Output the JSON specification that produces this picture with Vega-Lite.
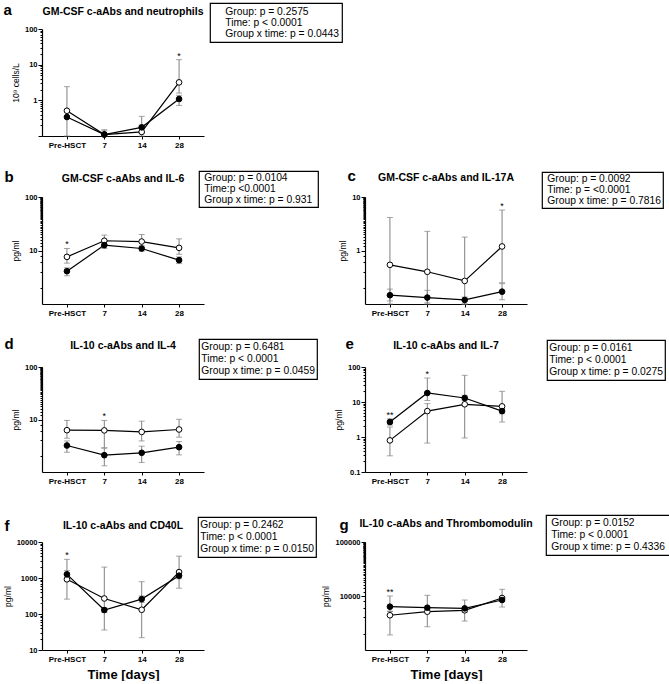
{
  "$schema": "https://vega.github.io/schema/vega-lite/v6.json",
  "padding": {"left": 3, "top": 2, "right": 0, "bottom": 0},
  "datasets": {
    "series": [
      {"panel": "a", "group": "c-aAbs−", "time": "Pre-HSCT", "day": 0, "value": 0.51, "lo": 0.1, "hi": 2.42},
      {"panel": "a", "group": "c-aAbs−", "time": "7", "day": 7, "value": 0.11, "lo": 0.1, "hi": 0.15},
      {"panel": "a", "group": "c-aAbs−", "time": "14", "day": 14, "value": 0.13, "lo": 0.1, "hi": 0.2},
      {"panel": "a", "group": "c-aAbs−", "time": "28", "day": 28, "value": 3.19, "lo": 1.6, "hi": 13.8},
      {"panel": "a", "group": "c-aAbs+", "time": "Pre-HSCT", "day": 0, "value": 0.34, "lo": 0.34, "hi": 0.34},
      {"panel": "a", "group": "c-aAbs+", "time": "7", "day": 7, "value": 0.11, "lo": 0.1, "hi": 0.14},
      {"panel": "a", "group": "c-aAbs+", "time": "14", "day": 14, "value": 0.175, "lo": 0.12, "hi": 0.356},
      {"panel": "a", "group": "c-aAbs+", "time": "28", "day": 28, "value": 1.09, "lo": 0.72, "hi": 1.38},
      {"panel": "b", "group": "c-aAbs−", "time": "Pre-HSCT", "day": 0, "value": 7.6, "lo": 5.8, "hi": 10.9},
      {"panel": "b", "group": "c-aAbs−", "time": "7", "day": 7, "value": 15.2, "lo": 12.6, "hi": 19.4},
      {"panel": "b", "group": "c-aAbs−", "time": "14", "day": 14, "value": 14.7, "lo": 11.5, "hi": 19.9},
      {"panel": "b", "group": "c-aAbs−", "time": "28", "day": 28, "value": 11.2, "lo": 8.5, "hi": 16.5},
      {"panel": "b", "group": "c-aAbs+", "time": "Pre-HSCT", "day": 0, "value": 4.1, "lo": 3.37, "hi": 4.75},
      {"panel": "b", "group": "c-aAbs+", "time": "7", "day": 7, "value": 12.6, "lo": 10.9, "hi": 14.5},
      {"panel": "b", "group": "c-aAbs+", "time": "14", "day": 14, "value": 10.9, "lo": 9.7, "hi": 12.2},
      {"panel": "b", "group": "c-aAbs+", "time": "28", "day": 28, "value": 6.6, "lo": 5.7, "hi": 7.6},
      {"panel": "c", "group": "c-aAbs−", "time": "Pre-HSCT", "day": 0, "value": 0.54, "lo": 0.1, "hi": 4.14},
      {"panel": "c", "group": "c-aAbs−", "time": "7", "day": 7, "value": 0.4, "lo": 0.1, "hi": 2.28},
      {"panel": "c", "group": "c-aAbs−", "time": "14", "day": 14, "value": 0.27, "lo": 0.1, "hi": 1.78},
      {"panel": "c", "group": "c-aAbs−", "time": "28", "day": 28, "value": 1.19, "lo": 0.25, "hi": 5.7},
      {"panel": "c", "group": "c-aAbs+", "time": "Pre-HSCT", "day": 0, "value": 0.146, "lo": 0.114, "hi": 0.19},
      {"panel": "c", "group": "c-aAbs+", "time": "7", "day": 7, "value": 0.132, "lo": 0.105, "hi": 0.18},
      {"panel": "c", "group": "c-aAbs+", "time": "14", "day": 14, "value": 0.119, "lo": 0.1, "hi": 0.135},
      {"panel": "c", "group": "c-aAbs+", "time": "28", "day": 28, "value": 0.17, "lo": 0.12, "hi": 0.24},
      {"panel": "d", "group": "c-aAbs−", "time": "Pre-HSCT", "day": 0, "value": 6.26, "lo": 4.4, "hi": 9.6},
      {"panel": "d", "group": "c-aAbs−", "time": "7", "day": 7, "value": 6.2, "lo": 2.9, "hi": 9.6},
      {"panel": "d", "group": "c-aAbs−", "time": "14", "day": 14, "value": 5.8, "lo": 3.9, "hi": 9.3},
      {"panel": "d", "group": "c-aAbs−", "time": "28", "day": 28, "value": 6.45, "lo": 4.6, "hi": 10.1},
      {"panel": "d", "group": "c-aAbs+", "time": "Pre-HSCT", "day": 0, "value": 3.2, "lo": 2.38, "hi": 3.9},
      {"panel": "d", "group": "c-aAbs+", "time": "7", "day": 7, "value": 2.09, "lo": 1.31, "hi": 2.84},
      {"panel": "d", "group": "c-aAbs+", "time": "14", "day": 14, "value": 2.32, "lo": 1.52, "hi": 3.1},
      {"panel": "d", "group": "c-aAbs+", "time": "28", "day": 28, "value": 2.97, "lo": 2.12, "hi": 3.8},
      {"panel": "e", "group": "c-aAbs−", "time": "Pre-HSCT", "day": 0, "value": 0.8, "lo": 0.29, "hi": 1.93},
      {"panel": "e", "group": "c-aAbs−", "time": "7", "day": 7, "value": 5.5, "lo": 0.67, "hi": 9},
      {"panel": "e", "group": "c-aAbs−", "time": "14", "day": 14, "value": 8.6, "lo": 0.94, "hi": 57.9},
      {"panel": "e", "group": "c-aAbs−", "time": "28", "day": 28, "value": 7.5, "lo": 2.68, "hi": 20.2},
      {"panel": "e", "group": "c-aAbs+", "time": "Pre-HSCT", "day": 0, "value": 2.68, "lo": 2.2, "hi": 3.3},
      {"panel": "e", "group": "c-aAbs+", "time": "7", "day": 7, "value": 18.1, "lo": 11, "hi": 48.5},
      {"panel": "e", "group": "c-aAbs+", "time": "14", "day": 14, "value": 13, "lo": 11, "hi": 15.5},
      {"panel": "e", "group": "c-aAbs+", "time": "28", "day": 28, "value": 5.5, "lo": 4.6, "hi": 6.5},
      {"panel": "f", "group": "c-aAbs−", "time": "Pre-HSCT", "day": 0, "value": 920, "lo": 259, "hi": 3300},
      {"panel": "f", "group": "c-aAbs−", "time": "7", "day": 7, "value": 270, "lo": 36, "hi": 2010},
      {"panel": "f", "group": "c-aAbs−", "time": "14", "day": 14, "value": 131, "lo": 22, "hi": 790},
      {"panel": "f", "group": "c-aAbs−", "time": "28", "day": 28, "value": 1460, "lo": 520, "hi": 4040},
      {"panel": "f", "group": "c-aAbs+", "time": "Pre-HSCT", "day": 0, "value": 1265, "lo": 1000, "hi": 1600},
      {"panel": "f", "group": "c-aAbs+", "time": "7", "day": 7, "value": 129, "lo": 110, "hi": 150},
      {"panel": "f", "group": "c-aAbs+", "time": "14", "day": 14, "value": 259, "lo": 209, "hi": 318},
      {"panel": "f", "group": "c-aAbs+", "time": "28", "day": 28, "value": 1160, "lo": 950, "hi": 1400},
      {"panel": "g", "group": "c-aAbs−", "time": "Pre-HSCT", "day": 0, "value": 4400, "lo": 1900, "hi": 5200},
      {"panel": "g", "group": "c-aAbs−", "time": "7", "day": 7, "value": 5120, "lo": 2700, "hi": 5600},
      {"panel": "g", "group": "c-aAbs−", "time": "14", "day": 14, "value": 5430, "lo": 3440, "hi": 5800},
      {"panel": "g", "group": "c-aAbs−", "time": "28", "day": 28, "value": 9180, "lo": 8000, "hi": 13300},
      {"panel": "g", "group": "c-aAbs+", "time": "Pre-HSCT", "day": 0, "value": 6340, "lo": 5200, "hi": 10000},
      {"panel": "g", "group": "c-aAbs+", "time": "7", "day": 7, "value": 6070, "lo": 5000, "hi": 10300},
      {"panel": "g", "group": "c-aAbs+", "time": "14", "day": 14, "value": 5900, "lo": 5000, "hi": 8430},
      {"panel": "g", "group": "c-aAbs+", "time": "28", "day": 28, "value": 8430, "lo": 6250, "hi": 9500}
    ],
    "stars": [
      {"panel": "a", "time": "28", "y": 13.8, "label": "*"},
      {"panel": "b", "time": "Pre-HSCT", "y": 10.9, "label": "*"},
      {"panel": "c", "time": "28", "y": 5.7, "label": "*"},
      {"panel": "d", "time": "7", "y": 9.6, "label": "*"},
      {"panel": "e", "time": "Pre-HSCT", "y": 3.3, "label": "**"},
      {"panel": "e", "time": "7", "y": 48.5, "label": "*"},
      {"panel": "f", "time": "Pre-HSCT", "y": 3300, "label": "*"},
      {"panel": "g", "time": "Pre-HSCT", "y": 10000, "label": "**"}
    ],
    "boxes": [
      {"panel": "a", "line": "Group: p = 0.2575"},
      {"panel": "a", "line": "Time: p  < 0.0001"},
      {"panel": "a", "line": "Group x time: p = 0.0443"},
      {"panel": "b", "line": "Group: p = 0.0104"},
      {"panel": "b", "line": "Time:p <0.0001"},
      {"panel": "b", "line": "Group x time: p =  0.931"},
      {"panel": "c", "line": "Group: p = 0.0092"},
      {"panel": "c", "line": "Time: p = <0.0001"},
      {"panel": "c", "line": "Group x time: p = 0.7816"},
      {"panel": "d", "line": "Group: p = 0.6481"},
      {"panel": "d", "line": "Time: p < 0.0001"},
      {"panel": "d", "line": "Group x time: p = 0.0459"},
      {"panel": "e", "line": "Group: p = 0.0161"},
      {"panel": "e", "line": "Time: p < 0.0001"},
      {"panel": "e", "line": "Group x time: p = 0.0275"},
      {"panel": "f", "line": "Group: p = 0.2462"},
      {"panel": "f", "line": "Time: p < 0.0001"},
      {"panel": "f", "line": "Group x time: p = 0.0150"},
      {"panel": "g", "line": "Group: p = 0.0152"},
      {"panel": "g", "line": "Time: p < 0.0001"},
      {"panel": "g", "line": "Group x time: p =  0.4336"}
    ]
  },
  "spacing": 29,
  "resolve": {"scale": {"shape": "independent"}, "legend": {"shape": "independent"}},
  "vconcat": [
    {
      "spacing": 19,
      "resolve": {"scale": {"shape": "independent"}, "legend": {"shape": "independent"}},
      "vconcat": [
        {
          "width": 162, "height": 107,
          "title": {"text": "GM-CSF c-aAbs and neutrophils"},
          "layer": [
            {"data": {"name": "series"}, "transform": [{"filter": "datum.panel == 'a'"}],
             "mark": {"type": "rule", "color": "#808080", "strokeWidth": 1},
             "encoding": {
               "x": {"field": "time", "type": "ordinal", "scale": {"type": "point", "domain": ["Pre-HSCT", "7", "14", "28"], "padding": 0.667}, "axis": {"title": null}},
               "y": {"field": "lo", "type": "quantitative", "scale": {"type": "log", "domain": [0.1, 100], "clamp": true},
                     "axis": {"title": "10⁹ cells/L", "tickCount": 40, "labelOverlap": false,
                              "tickSize": {"condition": {"test": "abs(log(datum.value)/LN10 - round(log(datum.value)/LN10)) < 0.001", "value": 4}, "value": 2},
                              "labelExpr": "abs(log(datum.value)/LN10 - round(log(datum.value)/LN10)) < 0.001 && datum.value >= 1 ? format(datum.value, '~g') : ''"}},
               "y2": {"field": "hi"}}},
            {"data": {"name": "series"}, "transform": [{"filter": "datum.panel == 'a'"}, {"fold": ["lo", "hi"], "as": ["end", "bound"]}],
             "mark": {"type": "tick", "color": "#808080", "thickness": 1, "size": 6, "orient": "horizontal"},
             "encoding": {"x": {"field": "time", "type": "ordinal", "axis": null}, "y": {"field": "bound", "type": "quantitative", "axis": null}}},
            {"data": {"name": "series"}, "transform": [{"filter": "datum.panel == 'a'"}],
             "mark": {"type": "line", "color": "black", "strokeWidth": 1.2},
             "encoding": {"x": {"field": "time", "type": "ordinal", "axis": null},
                          "y": {"field": "value", "type": "quantitative", "axis": {"orient": "left", "title": "a", "titleAngle": 0, "titleX": -39, "titleY": -20, "titleAlign": "left", "titleBaseline": "middle", "titleFontSize": 15, "titleFontWeight": "bold", "labels": false, "ticks": false, "domain": false, "grid": false}},
                          "detail": {"field": "group"}, "order": {"field": "day", "type": "quantitative"}}},
            {"data": {"name": "series"}, "transform": [{"filter": "datum.panel == 'a'"}],
             "mark": {"type": "circle", "size": 32, "stroke": "black", "strokeWidth": 1, "opacity": 1},
             "encoding": {"x": {"field": "time", "type": "ordinal", "axis": null}, "y": {"field": "value", "type": "quantitative", "axis": null},
                          "fill": {"field": "group", "type": "nominal", "scale": {"domain": ["c-aAbs+", "c-aAbs−"], "range": ["black", "white"]}, "legend": null}}},
            {"data": {"name": "stars"}, "transform": [{"filter": "datum.panel == 'a'"}],
             "mark": {"type": "text", "fontSize": 9, "dy": -1, "baseline": "alphabetic", "color": "black"},
             "encoding": {"x": {"field": "time", "type": "ordinal", "axis": null}, "y": {"field": "y", "type": "quantitative", "axis": null}, "text": {"field": "label"}}},
            {"data": {"name": "boxes"}, "transform": [{"filter": "datum.panel == 'a'"}],
             "mark": {"type": "point", "opacity": 0, "size": 1},
             "encoding": {"shape": {"field": "line", "type": "nominal", "sort": null, "legend": {"title": null, "orient": "none", "legendX": 168, "legendY": -26, "padding": 3, "rowPadding": 0, "clipHeight": 11, "labelOffset": 2, "symbolSize": 0.01, "symbolType": "circle"}}}}
          ],
          "resolve": {"axis": {"x": "independent", "y": "independent"}}
        },
        {
          "bounds": "flush", "spacing": 161,
          "resolve": {"scale": {"shape": "independent"}, "legend": {"shape": "independent"}},
          "hconcat": [
            {
              "width": 162, "height": 107,
              "title": {"text": "GM-CSF c-aAbs and IL-6"},
              "layer": [
                {"data": {"name": "series"}, "transform": [{"filter": "datum.panel == 'b'"}],
                 "mark": {"type": "rule", "color": "#808080", "strokeWidth": 1},
                 "encoding": {
                   "x": {"field": "time", "type": "ordinal", "scale": {"type": "point", "domain": ["Pre-HSCT", "7", "14", "28"], "padding": 0.667}, "axis": {"title": null}},
                   "y": {"field": "lo", "type": "quantitative", "scale": {"type": "log", "domain": [1, 100], "clamp": true},
                         "axis": {"title": "pg/ml", "tickCount": 40, "labelOverlap": false,
                                  "tickSize": {"condition": {"test": "abs(log(datum.value)/LN10 - round(log(datum.value)/LN10)) < 0.001", "value": 4}, "value": 2},
                                  "labelExpr": "abs(log(datum.value)/LN10 - round(log(datum.value)/LN10)) < 0.001 ? format(datum.value, '~g') : ''"}},
                   "y2": {"field": "hi"}}},
                {"data": {"name": "series"}, "transform": [{"filter": "datum.panel == 'b'"}, {"fold": ["lo", "hi"], "as": ["end", "bound"]}],
                 "mark": {"type": "tick", "color": "#808080", "thickness": 1, "size": 6, "orient": "horizontal"},
                 "encoding": {"x": {"field": "time", "type": "ordinal", "axis": null}, "y": {"field": "bound", "type": "quantitative", "axis": null}}},
                {"data": {"name": "series"}, "transform": [{"filter": "datum.panel == 'b'"}],
                 "mark": {"type": "line", "color": "black", "strokeWidth": 1.2},
                 "encoding": {"x": {"field": "time", "type": "ordinal", "axis": null},
                              "y": {"field": "value", "type": "quantitative", "axis": {"orient": "left", "title": "b", "titleAngle": 0, "titleX": -38, "titleY": -21, "titleAlign": "left", "titleBaseline": "middle", "titleFontSize": 15, "titleFontWeight": "bold", "labels": false, "ticks": false, "domain": false, "grid": false}},
                              "detail": {"field": "group"}, "order": {"field": "day", "type": "quantitative"}}},
                {"data": {"name": "series"}, "transform": [{"filter": "datum.panel == 'b'"}],
                 "mark": {"type": "circle", "size": 32, "stroke": "black", "strokeWidth": 1, "opacity": 1},
                 "encoding": {"x": {"field": "time", "type": "ordinal", "axis": null}, "y": {"field": "value", "type": "quantitative", "axis": null},
                              "fill": {"field": "group", "type": "nominal", "scale": {"domain": ["c-aAbs+", "c-aAbs−"], "range": ["black", "white"]}, "legend": null}}},
                {"data": {"name": "stars"}, "transform": [{"filter": "datum.panel == 'b'"}],
                 "mark": {"type": "text", "fontSize": 9, "dy": -1, "baseline": "alphabetic", "color": "black"},
                 "encoding": {"x": {"field": "time", "type": "ordinal", "axis": null}, "y": {"field": "y", "type": "quantitative", "axis": null}, "text": {"field": "label"}}},
                {"data": {"name": "boxes"}, "transform": [{"filter": "datum.panel == 'b'"}],
                 "mark": {"type": "point", "opacity": 0, "size": 1},
                 "encoding": {"shape": {"field": "line", "type": "nominal", "sort": null, "legend": {"title": null, "orient": "none", "legendX": 157, "legendY": -26, "padding": 2, "rowPadding": 0, "clipHeight": 9, "labelOffset": -7, "symbolSize": 0.01, "symbolType": "circle"}}}}
              ],
              "resolve": {"axis": {"x": "independent", "y": "independent"}}
            },
            {
              "width": 162, "height": 107,
              "title": {"text": "GM-CSF c-aAbs and IL-17A"},
              "layer": [
                {"data": {"name": "series"}, "transform": [{"filter": "datum.panel == 'c'"}],
                 "mark": {"type": "rule", "color": "#808080", "strokeWidth": 1},
                 "encoding": {
                   "x": {"field": "time", "type": "ordinal", "scale": {"type": "point", "domain": ["Pre-HSCT", "7", "14", "28"], "padding": 0.667}, "axis": {"title": null}},
                   "y": {"field": "lo", "type": "quantitative", "scale": {"type": "log", "domain": [0.1, 10], "clamp": true},
                         "axis": {"title": "pg/ml", "tickCount": 40, "labelOverlap": false,
                                  "tickSize": {"condition": {"test": "abs(log(datum.value)/LN10 - round(log(datum.value)/LN10)) < 0.001", "value": 4}, "value": 2},
                                  "labelExpr": "abs(log(datum.value)/LN10 - round(log(datum.value)/LN10)) < 0.001 ? format(datum.value, '~g') : ''"}},
                   "y2": {"field": "hi"}}},
                {"data": {"name": "series"}, "transform": [{"filter": "datum.panel == 'c'"}, {"fold": ["lo", "hi"], "as": ["end", "bound"]}],
                 "mark": {"type": "tick", "color": "#808080", "thickness": 1, "size": 6, "orient": "horizontal"},
                 "encoding": {"x": {"field": "time", "type": "ordinal", "axis": null}, "y": {"field": "bound", "type": "quantitative", "axis": null}}},
                {"data": {"name": "series"}, "transform": [{"filter": "datum.panel == 'c'"}],
                 "mark": {"type": "line", "color": "black", "strokeWidth": 1.2},
                 "encoding": {"x": {"field": "time", "type": "ordinal", "axis": null},
                              "y": {"field": "value", "type": "quantitative", "axis": {"orient": "left", "title": "c", "titleAngle": 0, "titleX": -18, "titleY": -22, "titleAlign": "left", "titleBaseline": "middle", "titleFontSize": 15, "titleFontWeight": "bold", "labels": false, "ticks": false, "domain": false, "grid": false}},
                              "detail": {"field": "group"}, "order": {"field": "day", "type": "quantitative"}}},
                {"data": {"name": "series"}, "transform": [{"filter": "datum.panel == 'c'"}],
                 "mark": {"type": "circle", "size": 32, "stroke": "black", "strokeWidth": 1, "opacity": 1},
                 "encoding": {"x": {"field": "time", "type": "ordinal", "axis": null}, "y": {"field": "value", "type": "quantitative", "axis": null},
                              "fill": {"field": "group", "type": "nominal", "scale": {"domain": ["c-aAbs+", "c-aAbs−"], "range": ["black", "white"]}, "legend": null}}},
                {"data": {"name": "stars"}, "transform": [{"filter": "datum.panel == 'c'"}],
                 "mark": {"type": "text", "fontSize": 9, "dy": -1, "baseline": "alphabetic", "color": "black"},
                 "encoding": {"x": {"field": "time", "type": "ordinal", "axis": null}, "y": {"field": "y", "type": "quantitative", "axis": null}, "text": {"field": "label"}}},
                {"data": {"name": "boxes"}, "transform": [{"filter": "datum.panel == 'c'"}],
                 "mark": {"type": "point", "opacity": 0, "size": 1},
                 "encoding": {"shape": {"field": "line", "type": "nominal", "sort": null, "legend": {"title": null, "orient": "none", "legendX": 177, "legendY": -25, "padding": 2, "rowPadding": 0, "clipHeight": 9, "labelOffset": -7, "symbolSize": 0.01, "symbolType": "circle"}}}}
              ],
              "resolve": {"axis": {"x": "independent", "y": "independent"}}
            }
          ]
        },
        {
          "bounds": "flush", "spacing": 161,
          "resolve": {"scale": {"shape": "independent"}, "legend": {"shape": "independent"}},
          "hconcat": [
            {
              "width": 162, "height": 105,
              "title": {"text": "IL-10 c-aAbs and IL-4"},
              "layer": [
                {"data": {"name": "series"}, "transform": [{"filter": "datum.panel == 'd'"}],
                 "mark": {"type": "rule", "color": "#808080", "strokeWidth": 1},
                 "encoding": {
                   "x": {"field": "time", "type": "ordinal", "scale": {"type": "point", "domain": ["Pre-HSCT", "7", "14", "28"], "padding": 0.667}, "axis": {"title": null}},
                   "y": {"field": "lo", "type": "quantitative", "scale": {"type": "log", "domain": [1, 100], "clamp": true},
                         "axis": {"title": "pg/ml", "tickCount": 40, "labelOverlap": false,
                                  "tickSize": {"condition": {"test": "abs(log(datum.value)/LN10 - round(log(datum.value)/LN10)) < 0.001", "value": 4}, "value": 2},
                                  "labelExpr": "abs(log(datum.value)/LN10 - round(log(datum.value)/LN10)) < 0.001 ? format(datum.value, '~g') : ''"}},
                   "y2": {"field": "hi"}}},
                {"data": {"name": "series"}, "transform": [{"filter": "datum.panel == 'd'"}, {"fold": ["lo", "hi"], "as": ["end", "bound"]}],
                 "mark": {"type": "tick", "color": "#808080", "thickness": 1, "size": 6, "orient": "horizontal"},
                 "encoding": {"x": {"field": "time", "type": "ordinal", "axis": null}, "y": {"field": "bound", "type": "quantitative", "axis": null}}},
                {"data": {"name": "series"}, "transform": [{"filter": "datum.panel == 'd'"}],
                 "mark": {"type": "line", "color": "black", "strokeWidth": 1.2},
                 "encoding": {"x": {"field": "time", "type": "ordinal", "axis": null},
                              "y": {"field": "value", "type": "quantitative", "axis": {"orient": "left", "title": "d", "titleAngle": 0, "titleX": -38, "titleY": -24, "titleAlign": "left", "titleBaseline": "middle", "titleFontSize": 15, "titleFontWeight": "bold", "labels": false, "ticks": false, "domain": false, "grid": false}},
                              "detail": {"field": "group"}, "order": {"field": "day", "type": "quantitative"}}},
                {"data": {"name": "series"}, "transform": [{"filter": "datum.panel == 'd'"}],
                 "mark": {"type": "circle", "size": 32, "stroke": "black", "strokeWidth": 1, "opacity": 1},
                 "encoding": {"x": {"field": "time", "type": "ordinal", "axis": null}, "y": {"field": "value", "type": "quantitative", "axis": null},
                              "fill": {"field": "group", "type": "nominal", "scale": {"domain": ["c-aAbs+", "c-aAbs−"], "range": ["black", "white"]}, "legend": null}}},
                {"data": {"name": "stars"}, "transform": [{"filter": "datum.panel == 'd'"}],
                 "mark": {"type": "text", "fontSize": 9, "dy": -1, "baseline": "alphabetic", "color": "black"},
                 "encoding": {"x": {"field": "time", "type": "ordinal", "axis": null}, "y": {"field": "y", "type": "quantitative", "axis": null}, "text": {"field": "label"}}},
                {"data": {"name": "boxes"}, "transform": [{"filter": "datum.panel == 'd'"}],
                 "mark": {"type": "point", "opacity": 0, "size": 1},
                 "encoding": {"shape": {"field": "line", "type": "nominal", "sort": null, "legend": {"title": null, "orient": "none", "legendX": 157, "legendY": -28, "padding": 2, "rowPadding": 0, "clipHeight": 12, "labelOffset": -10, "symbolSize": 0.01, "symbolType": "circle"}}}}
              ],
              "resolve": {"axis": {"x": "independent", "y": "independent"}}
            },
            {
              "width": 162, "height": 105,
              "title": {"text": "IL-10 c-aAbs and IL-7"},
              "layer": [
                {"data": {"name": "series"}, "transform": [{"filter": "datum.panel == 'e'"}],
                 "mark": {"type": "rule", "color": "#808080", "strokeWidth": 1},
                 "encoding": {
                   "x": {"field": "time", "type": "ordinal", "scale": {"type": "point", "domain": ["Pre-HSCT", "7", "14", "28"], "padding": 0.667}, "axis": {"title": null}},
                   "y": {"field": "lo", "type": "quantitative", "scale": {"type": "log", "domain": [0.1, 100], "clamp": true},
                         "axis": {"title": "pg/ml", "tickCount": 40, "labelOverlap": false,
                                  "tickSize": {"condition": {"test": "abs(log(datum.value)/LN10 - round(log(datum.value)/LN10)) < 0.001", "value": 4}, "value": 2},
                                  "labelExpr": "abs(log(datum.value)/LN10 - round(log(datum.value)/LN10)) < 0.001 ? format(datum.value, '~g') : ''"}},
                   "y2": {"field": "hi"}}},
                {"data": {"name": "series"}, "transform": [{"filter": "datum.panel == 'e'"}, {"fold": ["lo", "hi"], "as": ["end", "bound"]}],
                 "mark": {"type": "tick", "color": "#808080", "thickness": 1, "size": 6, "orient": "horizontal"},
                 "encoding": {"x": {"field": "time", "type": "ordinal", "axis": null}, "y": {"field": "bound", "type": "quantitative", "axis": null}}},
                {"data": {"name": "series"}, "transform": [{"filter": "datum.panel == 'e'"}],
                 "mark": {"type": "line", "color": "black", "strokeWidth": 1.2},
                 "encoding": {"x": {"field": "time", "type": "ordinal", "axis": null},
                              "y": {"field": "value", "type": "quantitative", "axis": {"orient": "left", "title": "e", "titleAngle": 0, "titleX": -20, "titleY": -24, "titleAlign": "left", "titleBaseline": "middle", "titleFontSize": 15, "titleFontWeight": "bold", "labels": false, "ticks": false, "domain": false, "grid": false}},
                              "detail": {"field": "group"}, "order": {"field": "day", "type": "quantitative"}}},
                {"data": {"name": "series"}, "transform": [{"filter": "datum.panel == 'e'"}],
                 "mark": {"type": "circle", "size": 32, "stroke": "black", "strokeWidth": 1, "opacity": 1},
                 "encoding": {"x": {"field": "time", "type": "ordinal", "axis": null}, "y": {"field": "value", "type": "quantitative", "axis": null},
                              "fill": {"field": "group", "type": "nominal", "scale": {"domain": ["c-aAbs+", "c-aAbs−"], "range": ["black", "white"]}, "legend": null}}},
                {"data": {"name": "stars"}, "transform": [{"filter": "datum.panel == 'e'"}],
                 "mark": {"type": "text", "fontSize": 9, "dy": -1, "baseline": "alphabetic", "color": "black"},
                 "encoding": {"x": {"field": "time", "type": "ordinal", "axis": null}, "y": {"field": "y", "type": "quantitative", "axis": null}, "text": {"field": "label"}}},
                {"data": {"name": "boxes"}, "transform": [{"filter": "datum.panel == 'e'"}],
                 "mark": {"type": "point", "opacity": 0, "size": 1},
                 "encoding": {"shape": {"field": "line", "type": "nominal", "sort": null, "legend": {"title": null, "orient": "none", "legendX": 182, "legendY": -27, "padding": 2, "rowPadding": 0, "clipHeight": 11.7, "labelOffset": -10, "symbolSize": 0.01, "symbolType": "circle"}}}}
              ],
              "resolve": {"axis": {"x": "independent", "y": "independent"}}
            }
          ]
        }
      ]
    },
    {
      "bounds": "flush", "spacing": 161,
      "resolve": {"scale": {"shape": "independent"}, "legend": {"shape": "independent"}},
      "hconcat": [
        {
          "width": 162, "height": 108,
          "title": {"text": "IL-10 c-aAbs and CD40L"},
          "layer": [
            {"data": {"name": "series"}, "transform": [{"filter": "datum.panel == 'f'"}],
             "mark": {"type": "rule", "color": "#808080", "strokeWidth": 1},
             "encoding": {
               "x": {"field": "time", "type": "ordinal", "scale": {"type": "point", "domain": ["Pre-HSCT", "7", "14", "28"], "padding": 0.667}, "axis": {"title": "Time [days]"}},
               "y": {"field": "lo", "type": "quantitative", "scale": {"type": "log", "domain": [10, 10000], "clamp": true},
                     "axis": {"title": "pg/ml", "tickCount": 40, "labelOverlap": false,
                              "tickSize": {"condition": {"test": "abs(log(datum.value)/LN10 - round(log(datum.value)/LN10)) < 0.001", "value": 4}, "value": 2},
                              "labelExpr": "abs(log(datum.value)/LN10 - round(log(datum.value)/LN10)) < 0.001 ? format(datum.value, '~g') : ''"}},
               "y2": {"field": "hi"}}},
            {"data": {"name": "series"}, "transform": [{"filter": "datum.panel == 'f'"}, {"fold": ["lo", "hi"], "as": ["end", "bound"]}],
             "mark": {"type": "tick", "color": "#808080", "thickness": 1, "size": 6, "orient": "horizontal"},
             "encoding": {"x": {"field": "time", "type": "ordinal", "axis": null}, "y": {"field": "bound", "type": "quantitative", "axis": null}}},
            {"data": {"name": "series"}, "transform": [{"filter": "datum.panel == 'f'"}],
             "mark": {"type": "line", "color": "black", "strokeWidth": 1.2},
             "encoding": {"x": {"field": "time", "type": "ordinal", "axis": null},
                          "y": {"field": "value", "type": "quantitative", "axis": {"orient": "left", "title": "f", "titleAngle": 0, "titleX": -38, "titleY": -17, "titleAlign": "left", "titleBaseline": "middle", "titleFontSize": 15, "titleFontWeight": "bold", "labels": false, "ticks": false, "domain": false, "grid": false}},
                          "detail": {"field": "group"}, "order": {"field": "day", "type": "quantitative"}}},
            {"data": {"name": "series"}, "transform": [{"filter": "datum.panel == 'f'"}],
             "mark": {"type": "circle", "size": 32, "stroke": "black", "strokeWidth": 1, "opacity": 1},
             "encoding": {"x": {"field": "time", "type": "ordinal", "axis": null}, "y": {"field": "value", "type": "quantitative", "axis": null},
                          "fill": {"field": "group", "type": "nominal", "scale": {"domain": ["c-aAbs+", "c-aAbs−"], "range": ["black", "white"]}, "legend": null}}},
            {"data": {"name": "stars"}, "transform": [{"filter": "datum.panel == 'f'"}],
             "mark": {"type": "text", "fontSize": 9, "dy": -1, "baseline": "alphabetic", "color": "black"},
             "encoding": {"x": {"field": "time", "type": "ordinal", "axis": null}, "y": {"field": "y", "type": "quantitative", "axis": null}, "text": {"field": "label"}}},
            {"data": {"name": "boxes"}, "transform": [{"filter": "datum.panel == 'f'"}],
             "mark": {"type": "point", "opacity": 0, "size": 1},
             "encoding": {"shape": {"field": "line", "type": "nominal", "sort": null, "legend": {"title": null, "orient": "none", "legendX": 156, "legendY": -25, "padding": 2, "rowPadding": 0, "clipHeight": 12, "labelOffset": -10, "symbolSize": 0.01, "symbolType": "circle"}}}}
          ],
          "resolve": {"axis": {"x": "independent", "y": "independent"}}
        },
        {
          "width": 162, "height": 108,
          "title": {"text": "IL-10 c-aAbs and Thrombomodulin"},
          "layer": [
            {"data": {"name": "series"}, "transform": [{"filter": "datum.panel == 'g'"}],
             "mark": {"type": "rule", "color": "#808080", "strokeWidth": 1},
             "encoding": {
               "x": {"field": "time", "type": "ordinal", "scale": {"type": "point", "domain": ["Pre-HSCT", "7", "14", "28"], "padding": 0.667}, "axis": {"title": "Time [days]"}},
               "y": {"field": "lo", "type": "quantitative", "scale": {"type": "log", "domain": [1000, 100000], "clamp": true},
                     "axis": {"title": "pg/ml", "tickCount": 40, "labelOverlap": false,
                              "tickSize": {"condition": {"test": "abs(log(datum.value)/LN10 - round(log(datum.value)/LN10)) < 0.001", "value": 4}, "value": 2},
                              "labelExpr": "abs(log(datum.value)/LN10 - round(log(datum.value)/LN10)) < 0.001 ? format(datum.value, '~g') : ''"}},
               "y2": {"field": "hi"}}},
            {"data": {"name": "series"}, "transform": [{"filter": "datum.panel == 'g'"}, {"fold": ["lo", "hi"], "as": ["end", "bound"]}],
             "mark": {"type": "tick", "color": "#808080", "thickness": 1, "size": 6, "orient": "horizontal"},
             "encoding": {"x": {"field": "time", "type": "ordinal", "axis": null}, "y": {"field": "bound", "type": "quantitative", "axis": null}}},
            {"data": {"name": "series"}, "transform": [{"filter": "datum.panel == 'g'"}],
             "mark": {"type": "line", "color": "black", "strokeWidth": 1.2},
             "encoding": {"x": {"field": "time", "type": "ordinal", "axis": null},
                          "y": {"field": "value", "type": "quantitative", "axis": {"orient": "left", "title": "g", "titleAngle": 0, "titleX": -26, "titleY": -18, "titleAlign": "left", "titleBaseline": "middle", "titleFontSize": 15, "titleFontWeight": "bold", "labels": false, "ticks": false, "domain": false, "grid": false}},
                          "detail": {"field": "group"}, "order": {"field": "day", "type": "quantitative"}}},
            {"data": {"name": "series"}, "transform": [{"filter": "datum.panel == 'g'"}],
             "mark": {"type": "circle", "size": 32, "stroke": "black", "strokeWidth": 1, "opacity": 1},
             "encoding": {"x": {"field": "time", "type": "ordinal", "axis": null}, "y": {"field": "value", "type": "quantitative", "axis": null},
                          "fill": {"field": "group", "type": "nominal", "scale": {"domain": ["c-aAbs+", "c-aAbs−"], "range": ["black", "white"]}, "legend": null}}},
            {"data": {"name": "stars"}, "transform": [{"filter": "datum.panel == 'g'"}],
             "mark": {"type": "text", "fontSize": 9, "dy": -1, "baseline": "alphabetic", "color": "black"},
             "encoding": {"x": {"field": "time", "type": "ordinal", "axis": null}, "y": {"field": "y", "type": "quantitative", "axis": null}, "text": {"field": "label"}}},
            {"data": {"name": "boxes"}, "transform": [{"filter": "datum.panel == 'g'"}],
             "mark": {"type": "point", "opacity": 0, "size": 1},
             "encoding": {"shape": {"field": "line", "type": "nominal", "sort": null, "legend": {"title": null, "orient": "none", "legendX": 181, "legendY": -27, "padding": 2, "rowPadding": 0, "clipHeight": 12, "labelOffset": -7, "symbolSize": 0.01, "symbolType": "circle"}}}}
          ],
          "resolve": {"axis": {"x": "independent", "y": "independent"}}
        }
      ]
    }
  ],
  "config": {
    "view": {"stroke": null},
    "font": "Liberation Sans",
    "axis": {"grid": false, "domainColor": "black", "tickColor": "black", "labelColor": "black", "titleColor": "black", "labelFont": "Liberation Sans", "titleFont": "Liberation Sans", "domainWidth": 1.2, "tickWidth": 1},
    "axisX": {"labelFontSize": 8, "labelFontWeight": "bold", "labelAngle": 0, "tickSize": 3, "labelPadding": 2, "titleFontSize": 13, "titleFontWeight": "bold", "titlePadding": 5},
    "axisY": {"labelFontSize": 7.5, "labelFontWeight": "bold", "titleFontSize": 8.5, "titleFontWeight": "normal", "labelPadding": 1, "titlePadding": 4},
    "title": {"font": "Liberation Sans", "fontSize": 10.5, "fontWeight": "bold", "color": "black", "anchor": "middle", "frame": "group", "offset": -15},
    "legend": {"labelFont": "Liberation Sans", "labelFontSize": 10.3, "labelColor": "black", "strokeColor": "black", "strokeWidth": 1.2, "padding": 3, "symbolSize": 0, "symbolOpacity": 0, "symbolStrokeWidth": 0, "labelOffset": 0, "labelLimit": 300}
  }
}
